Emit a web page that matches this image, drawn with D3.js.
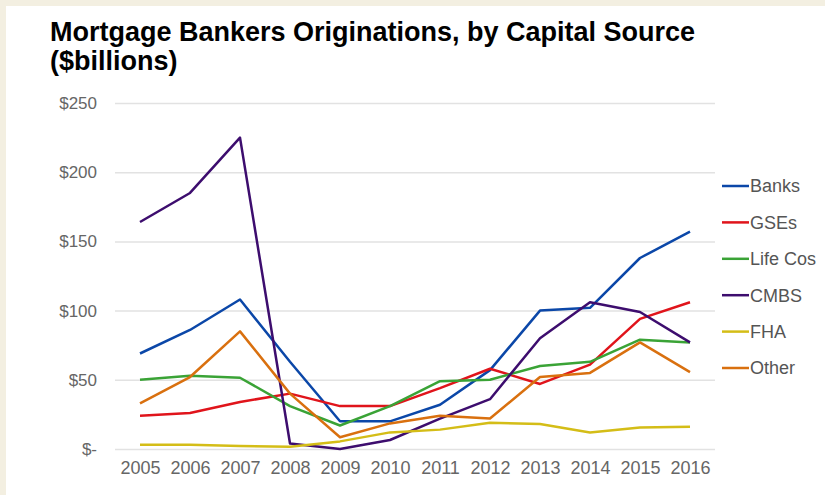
<!DOCTYPE html>
<html>
<head>
<meta charset="utf-8">
<script src="https://cdn.jsdelivr.net/npm/d3@7"></script>
<style>
  html, body { margin: 0; padding: 0; background: #f3efe1; }
  svg { display: block; font-family: "Liberation Sans", Arial, sans-serif; }
</style>
</head>
<body>
<div id="wrapper"></div>
<script>
const years = [2005, 2006, 2007, 2008, 2009, 2010, 2011, 2012, 2013, 2014, 2015, 2016]
const seriesNames = ["Banks", "GSEs", "Life Cos", "CMBS", "FHA", "Other"]
const banks   = [69, 86, 108, 63, 20, 20, 32, 57, 100, 102, 138, 157]
const gses    = [24, 26, 34, 40, 31, 31, 44, 58, 47, 61, 94, 106]
const lifeCos = [50, 53, 51.5, 31, 17, 31, 49, 50, 60, 63, 79, 77]
const cmbs    = [164, 185, 225, 4, 0, 6.5, 22, 36, 80, 106, 99, 77]
const fha     = [3, 3, 2.2, 1.7, 5.5, 12, 14, 19, 18, 12, 15.5, 16]
const other   = [33, 52, 85, 40, 8.5, 18.5, 24, 22, 52, 55, 77, 55.5]
const yTicks  = [0, 50, 100, 150, 200, 250]
const colors  = ["#0b47a8", "#e0141b", "#3aa336", "#3d0d6e", "#d4bd17", "#d9700f"]

const seriesValues = [banks, gses, lifeCos, cmbs, fha, other]
const dataset = seriesNames.map((name, i) => ({
  name: name,
  color: colors[i],
  values: years.map((y, j) => ({ year: y, value: seriesValues[i][j] }))
}))

let dimensions = {
  width: 825,
  height: 495,
  margin: { top: 103, right: 135, bottom: 46, left: 140 },
}
dimensions.boundedWidth = dimensions.width - dimensions.margin.left - dimensions.margin.right
dimensions.boundedHeight = dimensions.height - dimensions.margin.top - dimensions.margin.bottom

const wrapper = d3.select("#wrapper")
  .append("svg")
  .attr("width", dimensions.width)
  .attr("height", dimensions.height)

// white card over the cream page
wrapper.append("rect")
  .attr("x", 6).attr("y", 6)
  .attr("width", dimensions.width - 6)
  .attr("height", dimensions.height - 6)
  .attr("fill", "#ffffff")

const title = wrapper.append("text")
  .attr("x", 50)
  .attr("font-size", 27)
  .attr("font-weight", "bold")
  .attr("fill", "#000")
title.append("tspan").attr("x", 50).attr("y", 41).text("Mortgage Bankers Originations, by Capital Source")
title.append("tspan").attr("x", 50).attr("y", 70).text("($billions)")

const bounds = wrapper.append("g")
  .attr("transform", `translate(${dimensions.margin.left}, ${dimensions.margin.top})`)

const xScale = d3.scalePoint()
  .domain(years)
  .range([0, dimensions.boundedWidth])

const yScale = d3.scaleLinear()
  .domain([0, 250])
  .range([dimensions.boundedHeight, 0])

// gridlines + y labels
const yAxisGenerator = d3.axisLeft(yScale)
  .tickValues(yTicks)
  .tickSize(-(dimensions.boundedWidth + 50))
  .tickPadding(18)
  .tickFormat(d => d === 0 ? "$-" : "$" + d)
const yAxis = bounds.append("g")
  .attr("transform", "translate(-25, 0)")
  .call(yAxisGenerator)
yAxis.select(".domain").remove()
yAxis.selectAll(".tick line").attr("stroke", "#e2e2e2").attr("stroke-width", 1.5)
yAxis.selectAll(".tick text")
  .attr("fill", "#666")
  .attr("font-size", 17)
  .attr("font-family", "Liberation Sans, Arial, sans-serif")

const xAxisGenerator = d3.axisBottom(xScale)
  .tickSize(0)
  .tickPadding(12)
const xAxis = bounds.append("g")
  .attr("transform", `translate(0, ${dimensions.boundedHeight})`)
  .call(xAxisGenerator)
xAxis.select(".domain").remove()
xAxis.selectAll(".tick text")
  .attr("fill", "#666")
  .attr("font-size", 18)
  .attr("font-family", "Liberation Sans, Arial, sans-serif")

const lineGenerator = d3.line()
  .x(d => xScale(d.year))
  .y(d => yScale(d.value))

bounds.selectAll(".series")
  .data(dataset)
  .enter().append("path")
  .attr("class", "series")
  .attr("d", d => lineGenerator(d.values))
  .attr("fill", "none")
  .attr("stroke", d => d.color)
  .attr("stroke-width", 2.5)
  .attr("stroke-linejoin", "round")

// legend
const legend = wrapper.append("g")
  .attr("transform", "translate(722, 186)")
const legendItems = legend.selectAll("g")
  .data(dataset)
  .enter().append("g")
  .attr("transform", (d, i) => `translate(0, ${i * 36.4})`)
legendItems.append("line")
  .attr("x1", 0).attr("x2", 27)
  .attr("stroke", d => d.color)
  .attr("stroke-width", 2.5)
legendItems.append("text")
  .attr("x", 28)
  .attr("dy", "0.35em")
  .attr("font-size", 18)
  .attr("fill", "#555")
  .text(d => d.name)
</script>
</body>
</html>
